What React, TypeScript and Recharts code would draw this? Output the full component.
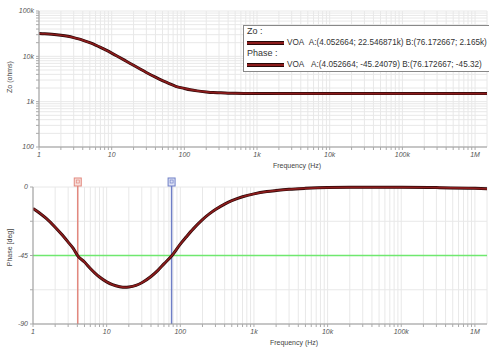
import { LineChart, Line, XAxis, YAxis, CartesianGrid, ReferenceLine } from 'recharts';

// frequency points (Hz)
const freq = [1, 1.2, 1.5, 2, 2.5, 3, 3.5, 4.052664, 5, 6, 7, 8, 10, 12, 15, 18, 20, 25, 30, 40, 50, 60, 76.172667, 100, 120, 150, 200, 250, 300, 400, 500, 700, 1000, 1500, 2000, 3000, 5000, 10000, 30000, 100000, 300000, 1000000, 1460000];
// output impedance Zo (ohms)
const zo = [31900, 31470, 30700, 29200, 27600, 25900, 24300, 22547, 20000, 17700, 15800, 14200, 11800, 10070, 8240, 6970, 6340, 5180, 4410, 3470, 2920, 2570, 2180, 1960, 1836, 1730, 1640, 1590, 1570, 1542, 1530, 1521, 1516, 1513, 1512, 1511, 1511, 1511, 1511, 1511, 1511, 1511, 1511];
// phase (deg)
const phase = [-14.1, -16.7, -20.5, -26.4, -31.6, -36.2, -40.2, -45.24, -49.3, -53.5, -56.7, -59.1, -62.3, -64.2, -65.5, -65.9, -65.7, -64.6, -62.9, -58.8, -54.6, -50.5, -45.32, -37.5, -32.9, -27.5, -21.4, -17.5, -14.8, -11.2, -9.0, -6.4, -4.5, -3.0, -2.3, -1.5, -0.9, -0.4, -0.2, -0.2, -0.4, -0.9, -1.2];

const freqMajor = [1, 10, 100, 1000, 10000, 100000, 1000000];
const freqLabels = ['1', '10', '100', '1k', '10k', '100k', '1M'];
const zoMajor = [100, 1000, 10000, 100000];
const zoLabels = ['100', '1k', '10k', '100k'];
const phaseTicks = [-90, -67.5, -45, -22.5, 0];
const phaseLabels: Record<string, string> = { '-90': '-90', '-45': '-45', '0': '0' };

const cursorA = 4.052664;
const cursorB = 76.172667;
const FMAX = 1460000;

// minor log grid 1..9 per decade
const withMinors = (majors: number[], max: number) => {
  const out: number[] = [];
  majors.forEach((m) => {
    for (let k = 1; k <= 9; k++) {
      const v = m * k;
      if (v <= max * 1.0001) out.push(v);
    }
  });
  return Array.from(new Set(out));
};

const freqTicks = withMinors(freqMajor, FMAX);
const zoTicks = withMinors(zoMajor, 100000);

const fmtFreq = (v: number) => {
  const i = freqMajor.findIndex((m) => Math.abs(m - v) / m < 1e-6);
  return i >= 0 ? freqLabels[i] : '';
};
const fmtZo = (v: number) => {
  const i = zoMajor.findIndex((m) => Math.abs(m - v) / m < 1e-6);
  return i >= 0 ? zoLabels[i] : '';
};

const rows = freq.map((f, i) => ({ f, zo: zo[i], ph: phase[i] }));

const FONT = '"Liberation Sans", Arial, sans-serif';
const tickStyle = { fontSize: 7, fontStyle: 'italic', fill: '#555', fontFamily: FONT };

const xLabel = (p: any) => {
  const vb = p.viewBox;
  return (
    <text x={vb.x + vb.width / 2 + 34} y={vb.y + 21} textAnchor="middle" fontSize={7} fill="#444" fontFamily={FONT}>
      Frequency (Hz)
    </text>
  );
};

const yLabel = (text: string, dy: number) => (p: any) => {
  const vb = p.viewBox;
  const cy = vb.y + vb.height / 2 + dy;
  return (
    <text x={12} y={cy} transform={`rotate(-90 12 ${cy})`} textAnchor="middle" fontSize={7} fill="#444" fontFamily={FONT}>
      {text}
    </text>
  );
};

const marker = (stroke: string, fill: string) => (p: any) => {
  const vb = p.viewBox;
  return (
    <g>
      <line x1={vb.x} x2={vb.x} y1={vb.y - 7} y2={vb.y} stroke={stroke} strokeWidth={1.5} />
      <rect x={vb.x - 3.5} y={vb.y - 9} width={7} height={8} fill={fill} stroke={stroke} strokeWidth={1} />
      <rect x={vb.x - 1.5} y={vb.y - 7} width={3} height={3} fill="none" stroke={stroke} strokeWidth={0.7} />
    </g>
  );
};

const legendSwatch = {
  display: 'inline-block',
  flexShrink: 0,
  width: 37,
  height: 2,
  background: '#8c1c1c',
  borderTop: '0.5px solid #2a0808',
  borderBottom: '0.5px solid #2a0808',
  marginRight: 3,
};

export default function App() {
  return (
    <div style={{ position: 'absolute', left: 0, top: 0, width: 500, height: 355, background: '#fff', fontFamily: FONT }}>
      <LineChart width={500} height={175} data={rows} margin={{ top: 11, right: 13, left: 0, bottom: 0 }}>
        <CartesianGrid stroke="#e8e8e8" strokeWidth={1} />
        <XAxis
          dataKey="f"
          type="number"
          scale="log"
          domain={[1, FMAX]}
          allowDataOverflow
          ticks={freqTicks}
          interval={0}
          tickFormatter={fmtFreq}
          tick={tickStyle}
          tickSize={3}
          tickLine={{ stroke: '#aaa' }}
          axisLine={{ stroke: '#999' }}
          height={28}
          label={{ content: xLabel }}
        />
        <YAxis
          type="number"
          scale="log"
          domain={[100, 100000]}
          allowDataOverflow
          ticks={zoTicks}
          interval={0}
          tickFormatter={fmtZo}
          tick={tickStyle}
          tickSize={3}
          tickLine={{ stroke: '#aaa' }}
          axisLine={{ stroke: '#999' }}
          width={39}
          label={{ content: yLabel('Zo (ohms)', -2) }}
        />
        <Line type="monotone" dataKey="zo" stroke="#2a0808" strokeWidth={3} dot={false} isAnimationActive={false} />
        <Line type="monotone" dataKey="zo" stroke="#8c1c1c" strokeWidth={1.7} dot={false} isAnimationActive={false} />
      </LineChart>

      <div style={{ position: 'absolute', left: 0, top: 175 }}>
        <LineChart width={500} height={180} data={rows} margin={{ top: 12, right: 13, left: 0, bottom: 0 }}>
          <CartesianGrid stroke="#e8e8e8" strokeWidth={1} />
          <XAxis
            dataKey="f"
            type="number"
            scale="log"
            domain={[1, FMAX]}
            allowDataOverflow
            ticks={freqTicks}
            interval={0}
            tickFormatter={fmtFreq}
            tick={tickStyle}
            tickSize={3}
            tickLine={{ stroke: '#aaa' }}
            axisLine={{ stroke: '#999' }}
            height={31}
            label={{ content: xLabel }}
          />
          <YAxis
            type="number"
            domain={[-90, 0]}
            ticks={phaseTicks}
            interval={0}
            tickFormatter={(v: number) => phaseLabels[String(v)] ?? ''}
            tick={tickStyle}
            tickSize={3}
            tickLine={{ stroke: '#aaa' }}
            axisLine={{ stroke: '#999' }}
            width={33}
            label={{ content: yLabel('Phase [deg]', -8) }}
          />
          <ReferenceLine y={-45} stroke="#6fe86f" strokeWidth={1.6} />
          <ReferenceLine x={cursorA} stroke="#e2887e" strokeWidth={1.5} label={{ content: marker('#e2887e', '#f8e0dc') }} />
          <ReferenceLine x={cursorB} stroke="#6f7fc6" strokeWidth={1.5} label={{ content: marker('#6f7fc6', '#dde2f6') }} />
          <Line type="monotone" dataKey="ph" stroke="#2a0808" strokeWidth={3} dot={false} isAnimationActive={false} />
          <Line type="monotone" dataKey="ph" stroke="#8c1c1c" strokeWidth={1.7} dot={false} isAnimationActive={false} />
        </LineChart>
      </div>

      <div
        style={{
          position: 'absolute',
          left: 243,
          top: 25,
          width: 246,
          height: 47,
          background: '#fff',
          borderTop: '1px solid #888',
          borderLeft: '1px solid #888',
          borderBottom: '1px solid #888',
          overflow: 'hidden',
          whiteSpace: 'nowrap',
          fontSize: 8.2,
          color: '#333',
          lineHeight: '11px',
          paddingLeft: 3,
          paddingTop: 0,
          boxSizing: 'border-box',
        }}
      >
        <div style={{ fontSize: 9 }}>Zo :</div>
        <div style={{ display: 'flex', alignItems: 'center' }}>
          <span style={legendSwatch} />
          <span>VOA&nbsp;&nbsp;A:(4.052664; 22.546871k) B:(76.172667; 2.165k)</span>
        </div>
        <div style={{ fontSize: 9 }}>Phase :</div>
        <div style={{ display: 'flex', alignItems: 'center' }}>
          <span style={legendSwatch} />
          <span>VOA&nbsp;&nbsp;&nbsp;A:(4.052664; -45.24079) B:(76.172667; -45.32)</span>
        </div>
      </div>
    </div>
  );
}
